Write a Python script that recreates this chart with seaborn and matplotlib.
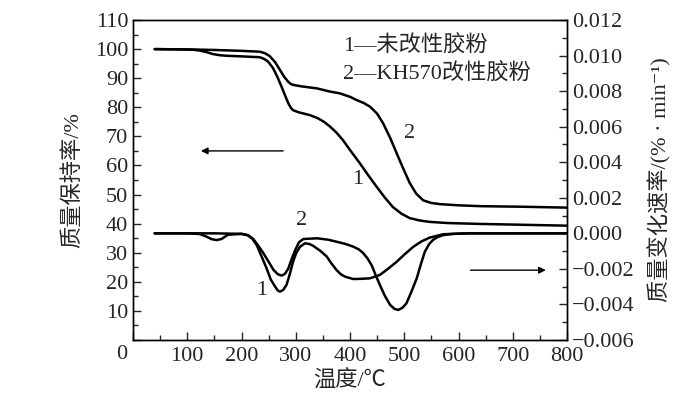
import numpy as np
import pandas as pd
import matplotlib
matplotlib.use("Agg")
import matplotlib.pyplot as plt
from matplotlib.ticker import MultipleLocator, FuncFormatter
import seaborn as sns

# TG curves (温度 / 质量保持率)
tg1_t = [40, 80, 110, 123, 135, 147, 160, 173, 200, 234, 242, 249, 258, 266, 274, 280, 286,
         291, 295, 305, 326, 340, 352, 363, 375, 387, 402, 418, 433, 449, 464, 479, 495, 510,
         528, 547, 580, 640, 720, 800]
tg1_m = [100, 99.9, 99.8, 99.5, 99.0, 98.3, 97.9, 97.7, 97.5, 97.2, 96.6, 95.7, 93.5, 90.5,
         87, 84.2, 81.5, 79.8, 79, 78.3, 77.3, 76.3, 75.0, 73.4, 71.3, 68.7, 64.8, 60.8, 56.8,
         52.7, 49.0, 45.7, 43.4, 41.9, 41.1, 40.6, 40.2, 39.9, 39.6, 39.3]
tg2_t = [40, 100, 150, 200, 234, 243, 252, 262, 271, 279, 286, 291, 295, 310, 339, 363,
         381, 400, 412, 425, 437, 450, 461, 474, 486, 498, 510, 522, 535, 550, 566, 600,
         640, 720, 800]
tg2_m = [100, 99.9, 99.7, 99.4, 99.1, 98.6, 97.6, 95.5, 92.8, 90.4, 88.8, 88.0, 87.7, 87.2,
         86.5, 85.4, 84.8, 83.6, 82.5, 81.5, 80.2, 77.8, 74.5, 69.5, 64.2, 59.0, 54, 50.3,
         48, 47.1, 46.7, 46.3, 46.0, 45.8, 45.5]

# DTG curves (温度 / 质量变化速率)
dtg1_t = [40, 100, 123, 135, 145, 154, 163, 175, 200, 212, 220, 228, 237, 246, 254, 262,
          267, 271, 277, 283, 289, 295, 301, 308, 317, 325, 332, 345, 357, 366, 375, 383,
          391, 406, 420, 437, 455, 470, 486, 500, 517, 532, 547, 572, 620, 800]
dtg1_v = [0.0, 0.0, -0.00004, -0.00018, -0.00033, -0.00038, -0.00032, -0.00008, -0.00003,
          -0.00012, -0.0003, -0.00066, -0.0013, -0.00195, -0.0026, -0.0030, -0.00322,
          -0.00328, -0.00318, -0.0029, -0.0023, -0.0016, -0.0011, -0.00075, -0.00056,
          -0.0006, -0.0007, -0.00098, -0.0013, -0.0017, -0.00206, -0.0023, -0.00244,
          -0.00257, -0.00256, -0.00253, -0.00234, -0.002, -0.0016, -0.0012, -0.00075,
          -0.00045, -0.00024, -0.00005, 0.0, 0.0]
dtg2_t = [40, 150, 200, 212, 222, 231, 240, 250, 259, 267, 274, 280, 286, 293, 299, 306,
          314, 339, 360, 375, 392, 406, 416, 424, 432, 440, 448, 455, 464, 474, 482, 489,
          497, 504, 513, 523, 531, 538, 546, 553, 562, 572, 590, 620, 800]
dtg2_v = [0.0, 0.0, -0.00003, -0.0001, -0.00033, -0.0007, -0.0011, -0.0016, -0.00206,
          -0.0023, -0.00238, -0.00228, -0.002, -0.0014, -0.00094, -0.0005, -0.00032,
          -0.00028, -0.00036, -0.00047, -0.0006, -0.00075, -0.0009, -0.0011, -0.0014,
          -0.0018, -0.0024, -0.0029, -0.0035, -0.00403, -0.00425, -0.00431, -0.00418,
          -0.00394, -0.0033, -0.00253, -0.0017, -0.00103, -0.0006, -0.00037, -0.0002,
          -0.0001, -0.00003, 0.0, 0.0]

legend_lines = ["1—未改性胶粉", "2—KH570改性胶粉"]

sns.set_style("ticks")
plt.rcParams['font.family'] = ['Liberation Serif', 'Noto Sans CJK SC', 'DejaVu Sans']
plt.rcParams['xtick.direction'] = 'in'
plt.rcParams['ytick.direction'] = 'in'

fig = plt.figure(figsize=(7, 3.97), dpi=100)
ax = fig.add_axes([0.19, 0.1436, 0.62, 0.806])
ax2 = ax.twinx()

lw = 1.8
sns.lineplot(x=tg1_t, y=tg1_m, ax=ax, color="black", lw=lw, sort=False)
sns.lineplot(x=tg2_t, y=tg2_m, ax=ax, color="black", lw=lw, sort=False)
sns.lineplot(x=dtg1_t, y=dtg1_v, ax=ax2, color="black", lw=lw, sort=False)
sns.lineplot(x=dtg2_t, y=dtg2_v, ax=ax2, color="black", lw=lw, sort=False)

ax.set_xlim(0, 800)
ax.set_ylim(0, 110)
ax2.set_ylim(-0.006, 0.012)

ax.xaxis.set_major_locator(MultipleLocator(100))
ax.xaxis.set_minor_locator(MultipleLocator(50))
ax.yaxis.set_major_locator(MultipleLocator(10))
ax.yaxis.set_minor_locator(MultipleLocator(5))
# the corner "0" is drawn once, below-left of the origin
ax.xaxis.set_major_formatter(FuncFormatter(lambda v, p: "" if v == 0 else f"{v:.0f}"))
ax.yaxis.set_major_formatter(FuncFormatter(lambda v, p: "" if v == 0 else f"{v:.0f}"))
ax2.yaxis.set_major_locator(MultipleLocator(0.002))
ax2.yaxis.set_minor_locator(MultipleLocator(0.001))
ax2.yaxis.set_major_formatter(FuncFormatter(lambda v, p: f"{round(v, 4):.3f}".replace("-", "−")))

fs = 16
ax.tick_params(axis='both', which='major', length=6, width=1, labelsize=fs, top=False, right=False)
ax.tick_params(axis='x', which='major', pad=5)
ax.tick_params(axis='both', which='minor', length=3.5, width=1, top=False, right=False)
ax2.tick_params(axis='y', which='major', length=6, width=1, labelsize=fs)
ax2.tick_params(axis='y', which='minor', length=3.5, width=1)
for a in (ax, ax2):
    for s in a.spines.values():
        s.set_linewidth(1.0)
        s.set_color("black")

ax.text(-0.025, -0.045, "0", transform=ax.transAxes, fontsize=fs, ha="center", va="center")

ax.set_xlabel("温度/℃", fontsize=fs, labelpad=3)
ax.set_ylabel("质量保持率/%", fontsize=fs, labelpad=8)
ax2.set_ylabel("质量变化速率/(% · min⁻¹)", fontsize=fs, labelpad=10, rotation=90)

# legend text
ax.text(388, 101, legend_lines[0], fontsize=fs, ha="left", va="center")
ax.text(388, 91.5, legend_lines[1], fontsize=fs, ha="left", va="center")

# curve labels
ax.text(415, 55, "1", fontsize=fs, ha="center", va="center")
ax.text(509, 71, "2", fontsize=fs, ha="center", va="center")
ax.text(311, 41, "2", fontsize=fs, ha="center", va="center")
ax.text(238, 17, "1", fontsize=fs, ha="center", va="center")

# arrows
ax.annotate("", xy=(120, 65), xytext=(282, 65),
            arrowprops=dict(arrowstyle="-|>", color="black", lw=1, mutation_scale=10))
ax.annotate("", xy=(766, 24), xytext=(617, 24),
            arrowprops=dict(arrowstyle="-|>", color="black", lw=1, mutation_scale=10))

fig.savefig("out.png", dpi=100)
